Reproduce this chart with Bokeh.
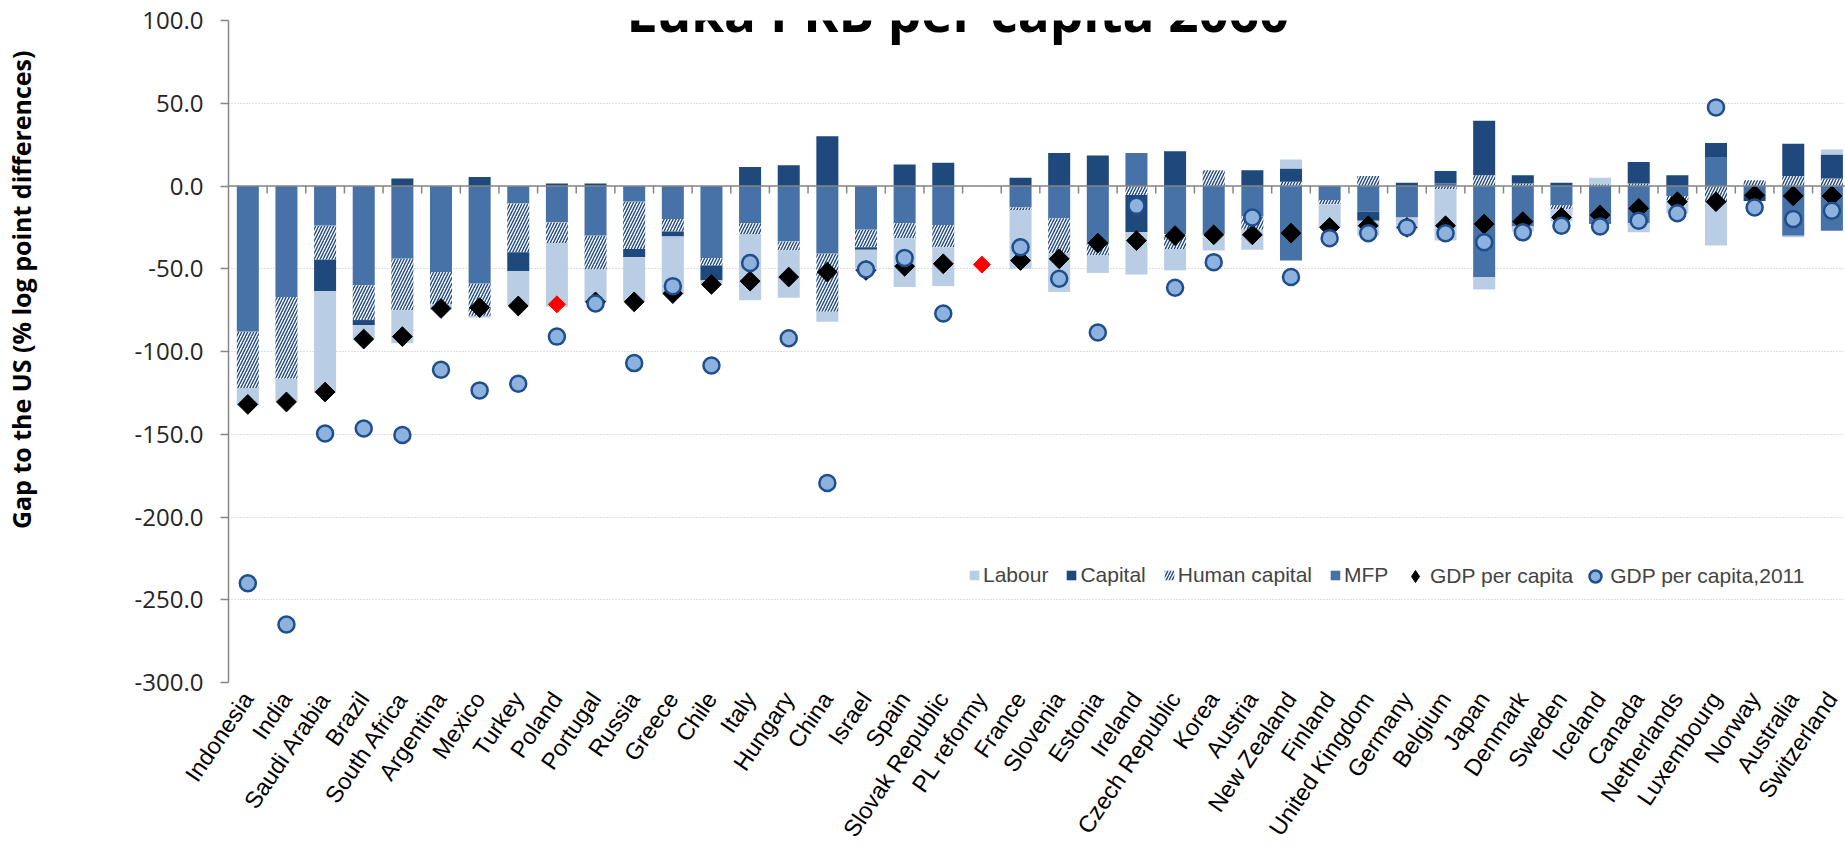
import numpy as np
from bokeh.plotting import figure
from bokeh.models import (Range1d, FixedTicker, NumeralTickFormatter, Span, Label,
                          Legend, LegendItem, ColumnDataSource, CustomJSTickFormatter)
from bokeh.embed import file_html
from bokeh.resources import INLINE

# ---------------- data ----------------
countries = ["Indonesia", "India", "Saudi Arabia", "Brazil", "South Africa", "Argentina",
             "Mexico", "Turkey", "Poland", "Portugal", "Russia", "Greece", "Chile", "Italy",
             "Hungary", "China", "Israel", "Spain", "Slovak Republic", "PL reformy", "France",
             "Slovenia", "Estonia", "Ireland", "Czech Republic", "Korea", "Austria",
             "New Zealand", "Finland", "United Kingdom", "Germany", "Belgium", "Japan",
             "Denmark", "Sweden", "Iceland", "Canada", "Netherlands", "Luxembourg", "Norway",
             "Australia", "Switzerland"]

labour = [-10, -14, -61.5, -8.5, -20, -3, -1, -20.5, -38.5, -20, -27, -34.5, -2.5, -40,
          -28.5, -6, -12.5, -29.5, -23.5, 0, -35.5, -23.5, -10.5, -25.5, -13, -10, -12,
          5.5, -14.5, -9, -7.5, -31, -7.5, -3, -7.5, 4, -5.5, -8, -25.5, 0, -1, 3]
capital = [0, 0, -19, -3, 4.5, 0, 5.5, -11.5, 1.5, 1.5, -5, -3, -9, 11.5,
           12.5, 30, -1.5, 13, 14, 0, 5, 20, 18.5, -22.5, 21, 0, 9.5,
           8, 0, -5.5, 2, 7.5, 33, 5, 2, 0, 13, 6.5, 8.5, -4, 19.5, 14.5]
human_capital = [-34, -49.5, -20.5, -21, -31, -19.5, -19.5, -29.5, -12.5, -20.5, -28.5, -7.5,
                 -4.5, -6.5, -5.5, -35, -10.5, -9, -13.5, 0, -1.5, -21, -7, -5.5, -9, 9.5,
                 -8, 2.5, -2.5, 6, 0, -2, 6.5, 1.5, -2.5, 1, 1.5, -2.5, -10.5, 3.5, 6, 4.5]
mfp = [-88, -67, -24, -60, -44, -52, -59, -10.5, -22, -30, -9.5, -20, -43.5, -22.5,
       -33.5, -41, -26.5, -22.5, -23.5, 0, -13, -19.5, -35, 20, -29, -29, -18.5,
       -45, -8.5, -15.5, -19, 1.5, -55, -24.5, -11.5, -23, -22.5, -6, 17.5, -5, -30, -27]
gdp_per_capita = [-132, -130.5, -124.5, -92.5, -91, -74, -73.5, -72.5, -71.5, -70, -70, -65,
                  -59.5, -57.5, -55, -52, -51, -48.5, -47, -47.5, -45, -44, -34.5, -33,
                  -30, -29.5, -29.5, -28.5, -25, -24, -25, -24, -23, -21.5, -19, -17.5,
                  -13.5, -9.5, -9.5, -5.5, -6, -6]
gdp_per_capita_2011 = [-240, -265, -149.5, -146.5, -150.5, -111, -123.5, -119.5, -91, -71,
                       -107, -60.5, -108.5, -46.5, -92, -179.5, -50.5, -43.5, -77, float("nan"),
                       -37, -56, -88.5, -12, -61.5, -46, -19, -55, -31.5, -28.5, -25,
                       -28.5, -34, -28, -24, -24.5, -21, -16.5, 47.5, -13, -20, -15]
highlighted = ["Poland", "PL reformy"]

y_ticks = [-300, -250, -200, -150, -100, -50, 0, 50, 100]

# ---------------- styling ----------------
LAB_C = "#B9CDE5"
CAP_C = "#1F497D"
MFP_C = "#4672A8"
HATCH_C = "#1F497D"
AXIS_C = "#868686"

n = len(countries)
xs = np.arange(n) + 0.5
CAT_PX = 38.66
W, H = 1845, 855
LEFT, TOP, BOTTOM = 227, 20, 173
FRAME_W = W - LEFT

p = figure(width=W, height=H, output_backend="svg", toolbar_location=None,
           x_range=Range1d(0, FRAME_W / CAT_PX), y_range=Range1d(-300, 100),
           min_border_left=LEFT, min_border_right=0, min_border_top=TOP,
           min_border_bottom=BOTTOM)
p.outline_line_color = None
p.xgrid.visible = False
p.ygrid.grid_line_color = "#BFBFBF"
p.ygrid.grid_line_dash = "1 2"
p.ygrid.grid_line_width = 1

# stacked bars (MFP nearest the axis, then human capital, capital, labour)
series = [("MFP", mfp, MFP_C, False), ("Human capital", human_capital, "white", True),
          ("Capital", capital, CAP_C, False), ("Labour", labour, LAB_C, False)]
pos = np.zeros(n)
neg = np.zeros(n)
rend = {}
for name, vals, color, hatched in series:
    v = np.array(vals, dtype=float)
    bottom = np.where(v >= 0, pos, neg)
    top = bottom + v
    pos = np.where(v >= 0, top, pos)
    neg = np.where(v < 0, top, neg)
    kw = dict(fill_color=color, line_color=None)
    if hatched:
        kw.update(hatch_pattern="/", hatch_color=HATCH_C, hatch_scale=6, hatch_weight=1.4)
    rend[name] = p.vbar(x=xs, width=0.57, bottom=bottom, top=top, **kw)

# boundary tick marks under the zero line
bounds = np.arange(1, n + 1)
p.segment(x0=bounds, y0=0, x1=bounds, y1=-4.5, line_color=AXIS_C, line_width=1.5)
p.add_layout(Span(location=0, dimension="width", line_color=AXIS_C, line_width=1.5))

# GDP per capita diamonds
dcol = ["red" if c in highlighted else "black" for c in countries]
dsize = [12 if c in highlighted else 14 for c in countries]
dsrc = ColumnDataSource(dict(x=xs, y=gdp_per_capita, c=dcol, s=dsize))
p.scatter(x="x", y="y", source=dsrc, marker="square", angle=np.pi / 4, size="s",
          fill_color="c", line_color="c")
# legend stand-in for the diamond (legend glyphs ignore rotation)
r_gdp_leg = p.scatter(x=[float("nan")], y=[float("nan")], marker="diamond", size=14,
                      fill_color="black", line_color="black")

# GDP per capita 2011 circles
r_2011 = p.scatter(x=xs, y=gdp_per_capita_2011, marker="circle", size=16,
                   fill_color="#8EB2DE", line_color="#1F4E8C", line_width=2.5)

# axes
p.yaxis.ticker = FixedTicker(ticks=y_ticks)
p.yaxis.formatter = NumeralTickFormatter(format="0.0")
p.yaxis.major_label_text_font = "Open Sans"
p.yaxis.major_label_text_font_size = "24px"
p.yaxis.major_label_text_color = "#262626"
p.yaxis.axis_line_color = AXIS_C
p.yaxis.axis_line_width = 1.5
p.yaxis.major_tick_line_color = AXIS_C
p.yaxis.major_tick_line_width = 1.5
p.yaxis.major_tick_out = 8
p.yaxis.major_tick_in = 0
p.yaxis.minor_tick_line_color = None
p.yaxis.major_label_standoff = 17
p.yaxis.axis_label = "\u00a0" * 19 + "Gap to the US (% log point differences)"
p.yaxis.axis_label_text_font = "Open Sans"
p.yaxis.axis_label_text_font_style = "bold"
p.yaxis.axis_label_text_font_size = "25px"
p.yaxis.axis_label_text_color = "black"
p.yaxis.axis_label_standoff = 94

p.xaxis.ticker = FixedTicker(ticks=list(xs))
p.xaxis.formatter = CustomJSTickFormatter(args=dict(names=countries),
                                          code="return names[Math.floor(tick)] || '';")
p.xaxis.axis_line_color = None
p.xaxis.major_tick_line_color = None
p.xaxis.minor_tick_line_color = None
p.xaxis.major_label_orientation = 0.977
p.xaxis.major_label_text_font = "Liberation Sans"
p.xaxis.major_label_text_font_size = "23.5px"
p.xaxis.major_label_text_color = "black"
p.xaxis.major_label_standoff = 6

# chart title (partly cut at the top, as in the original)
p.add_layout(Label(x=18.88, y=83.5, text="Luka PKB per capita 2060", text_font="Open Sans",
                   text_font_style="bold", text_font_size="53px", text_align="center",
                   text_baseline="bottom", text_color="black"))

# legends
leg1 = Legend(items=[LegendItem(label="Labour", renderers=[rend["Labour"]]),
                     LegendItem(label="Capital", renderers=[rend["Capital"]]),
                     LegendItem(label="Human capital", renderers=[rend["Human capital"]]),
                     LegendItem(label="MFP", renderers=[rend["MFP"]])],
              orientation="horizontal", location=(740, 95), glyph_width=12, glyph_height=12,
              label_standoff=3, spacing=17, padding=0, margin=0, border_line_color=None,
              background_fill_alpha=0, label_text_font="Liberation Sans",
              label_text_font_size="21px", label_height=24)
leg2 = Legend(items=[LegendItem(label="GDP per capita", renderers=[r_gdp_leg]),
                     LegendItem(label="GDP per capita,2011", renderers=[r_2011])],
              orientation="horizontal", location=(1172, 91.5), glyph_width=30, glyph_height=30,
              label_standoff=0, spacing=7, padding=0, margin=0, border_line_color=None,
              background_fill_alpha=0, label_text_font="Liberation Sans",
              label_text_font_size="21px", label_height=30)
p.add_layout(leg1)
p.add_layout(leg2)

open("out.html", "w").write(file_html(p, INLINE))
